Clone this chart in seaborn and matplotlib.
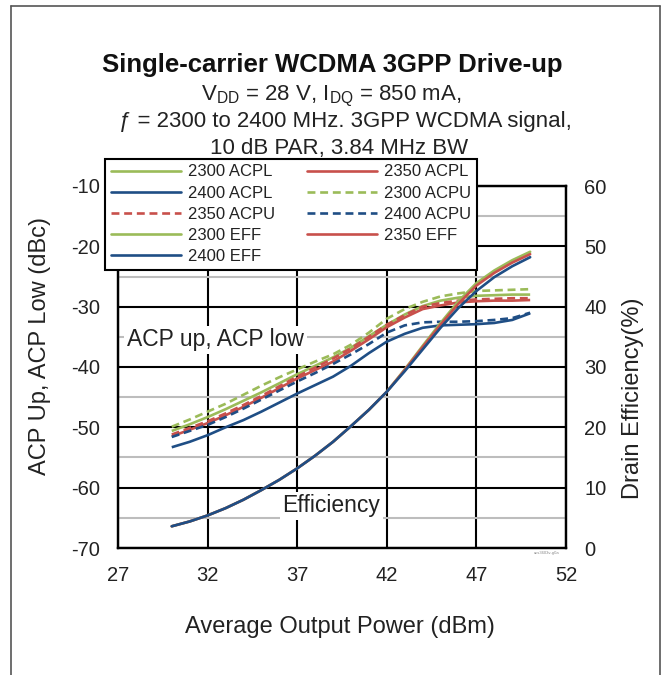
import numpy as np
import pandas as pd
import matplotlib
matplotlib.use("Agg")
import matplotlib.pyplot as plt
import seaborn as sns
from matplotlib.ticker import MultipleLocator
from matplotlib.lines import Line2D

# ---------------- data ----------------
pout = [30, 31, 32, 33, 34, 35, 36, 37, 38, 39, 40, 41, 42, 43, 44, 45, 46, 47, 48, 49, 50]

acpl_2300 = [-50.6, -49.5, -48.3, -47.0, -45.6, -44.2, -42.7, -41.2, -39.8, -38.4, -36.8,
             -34.9, -33.0, -31.3, -29.9, -29.0, -28.5, -28.2, -28.1, -28.0, -28.0]
acpl_2350 = [-51.5, -50.4, -49.3, -48.0, -46.6, -45.1, -43.5, -41.9, -40.5, -39.1, -37.3,
             -35.4, -33.4, -31.8, -30.4, -29.8, -29.3, -29.1, -29.0, -29.0, -28.9]
acpl_2400 = [-53.3, -52.4, -51.3, -50.0, -48.8, -47.4, -45.9, -44.4, -43.0, -41.6, -39.8,
             -37.7, -35.8, -34.5, -33.5, -33.1, -33.0, -32.9, -32.7, -32.2, -31.1]
acpu_2300 = [-49.9, -48.7, -47.4, -46.1, -44.6, -43.1, -41.7, -40.4, -39.1, -37.9, -36.3,
             -34.3, -32.0, -30.4, -29.2, -28.3, -27.8, -27.4, -27.3, -27.2, -27.1]
acpu_2350 = [-51.2, -50.1, -49.0, -47.7, -46.3, -44.8, -43.2, -41.6, -40.1, -38.6, -36.9,
             -35.0, -33.0, -31.4, -30.0, -29.4, -29.0, -28.8, -28.7, -28.6, -28.6]
acpu_2400 = [-51.6, -50.6, -49.6, -48.3, -46.9, -45.4, -43.9, -42.4, -41.0, -39.5, -37.9,
             -36.2, -34.3, -33.1, -32.6, -32.5, -32.5, -32.4, -32.2, -31.9, -31.0]
eff_2300 = [3.6, 4.4, 5.4, 6.6, 8.0, 9.6, 11.3, 13.2, 15.3, 17.6, 20.2,
            22.9, 25.9, 29.6, 33.5, 37.3, 40.9, 43.9, 46.0, 47.7, 49.1]
eff_2350 = [3.6, 4.4, 5.4, 6.6, 8.0, 9.6, 11.3, 13.2, 15.3, 17.6, 20.2,
            22.9, 25.9, 29.5, 33.3, 37.0, 40.5, 43.5, 45.6, 47.3, 48.7]
eff_2400 = [3.6, 4.4, 5.4, 6.6, 8.0, 9.6, 11.3, 13.2, 15.3, 17.6, 20.2,
            22.9, 25.9, 29.3, 32.9, 36.5, 39.8, 42.6, 44.9, 46.7, 48.2]

x_ticks = [27, 32, 37, 42, 47, 52]
y_left_ticks = [-70, -60, -50, -40, -30, -20, -10]
y_right_ticks = [0, 10, 20, 30, 40, 50, 60]

# ---------------- style ----------------
sns.set_style("white")
plt.rcParams["font.family"] = ["Liberation Sans", "DejaVu Sans"]
plt.rcParams["mathtext.fontset"] = "custom"
plt.rcParams["mathtext.rm"] = "Liberation Sans"
plt.rcParams["mathtext.it"] = "Liberation Sans:italic"
plt.rcParams["mathtext.bf"] = "Liberation Sans:bold"

GREEN = "#9BBB59"
RED = "#C8504B"
BLUE = "#1F4E85"
LW = 1.9
DASH = (0, (3.0, 1.8))

W, H = 666, 675
fig = plt.figure(figsize=(W / 100, H / 100), dpi=100)


def fx(px):
    return px / W


def fy(py):
    return 1 - py / H


ax = fig.add_axes([fx(118), fy(548), (566 - 118) / W, (548 - 186) / H])
ax2 = ax.twinx()

left_series = [
    ("2300 ACPL", acpl_2300, GREEN, "-"),
    ("2350 ACPL", acpl_2350, RED, "-"),
    ("2400 ACPL", acpl_2400, BLUE, "-"),
    ("2300 ACPU", acpu_2300, GREEN, DASH),
    ("2350 ACPU", acpu_2350, RED, DASH),
    ("2400 ACPU", acpu_2400, BLUE, DASH),
]
right_series = [
    ("2300 EFF", eff_2300, GREEN, "-"),
    ("2350 EFF", eff_2350, RED, "-"),
    ("2400 EFF", eff_2400, BLUE, "-"),
]

handles = {}
for name, vals, col, ls in left_series:
    df = pd.DataFrame({"x": pout, "y": vals})
    sns.lineplot(data=df, x="x", y="y", ax=ax, color=col, linewidth=LW, zorder=3)
    ln = ax.lines[-1]
    ln.set_linestyle(ls)
    ln.set_solid_capstyle("butt")
    handles[name] = Line2D([], [], color=col, lw=LW, linestyle=ls)
for name, vals, col, ls in right_series:
    df = pd.DataFrame({"x": pout, "y": vals})
    sns.lineplot(data=df, x="x", y="y", ax=ax2, color=col, linewidth=LW, zorder=3)
    ln = ax2.lines[-1]
    ln.set_linestyle(ls)
    handles[name] = Line2D([], [], color=col, lw=LW, linestyle=ls)

# axes
ax.set_xlim(27, 52)
ax.set_ylim(-70, -10)
ax2.set_ylim(0, 60)
ax.set_xticks(x_ticks)
ax.set_yticks(y_left_ticks)
ax2.set_yticks(y_right_ticks)
ax.set_xticklabels([str(v) for v in x_ticks])
ax.set_yticklabels([str(v) for v in y_left_ticks])
ax2.set_yticklabels([str(v) for v in y_right_ticks])
ax.yaxis.set_minor_locator(MultipleLocator(5))
ax.set_axisbelow(True)
ax.grid(which="major", axis="both", color="black", linewidth=1.5)
ax.grid(which="minor", axis="y", color="#BDBDBD", linewidth=1.5)
ax.tick_params(axis="both", which="both", length=0, labelsize=14.5, pad=13, colors="#222222")
ax2.tick_params(axis="y", length=0, labelsize=14.5, pad=13, colors="#222222")
ax2.grid(False)
for a in (ax, ax2):
    for s in a.spines.values():
        s.set_color("black")
        s.set_linewidth(1.6)
ax.set_xlabel("")
ax.set_ylabel("")
ax2.set_ylabel("")

# axis labels
fig.text(fx(340), fy(627), "Average Output Power (dBm)", ha="center", va="center",
         fontsize=17, color="#222222")
fig.text(fx(40), fy(346), "ACP Up, ACP Low (dBc)", ha="center", va="center",
         rotation=90, fontsize=17, color="#222222")
fig.text(fx(633), fy(398), "Drain Efficiency(%)", ha="center", va="center",
         rotation=90, fontsize=17, color="#222222")

# in-plot annotations
ax.text(27.5, -35.5, "ACP up, ACP low", ha="left", va="center", fontsize=16.5,
        color="#222222", zorder=4,
        bbox=dict(facecolor="white", edgecolor="none", pad=2))
ax.text(38.9, -63.0, "Efficiency", ha="center", va="center", fontsize=16.5,
        color="#222222", zorder=4,
        bbox=dict(facecolor="white", edgecolor="none", pad=2))
ax.text(0.985, -0.008, "ucs3603v-g0a", transform=ax.transAxes, ha="right", va="top",
        fontsize=3, color="#888888")

# titles
fig.text(fx(332), fy(72), "Single-carrier WCDMA 3GPP Drive-up", ha="center",
         va="baseline", fontsize=18.5, fontweight="bold", color="#111111")
fig.text(fx(331), fy(100), r"V$_{\mathrm{DD}}$ = 28 V, I$_{\mathrm{DQ}}$ = 850 mA,",
         ha="center", va="baseline", fontsize=16, color="#222222")
fig.text(fx(345), fy(127), "\u0192 = 2300 to 2400 MHz. 3GPP WCDMA signal,",
         ha="center", va="baseline", fontsize=16, color="#222222")
fig.text(fx(339), fy(154), "10 dB PAR, 3.84 MHz BW",
         ha="center", va="baseline", fontsize=16, color="#222222")

# legend (row-major order emulated)
order = ["2300 ACPL", "2400 ACPL", "2350 ACPU", "2300 EFF", "2400 EFF",
         "2350 ACPL", "2300 ACPU", "2400 ACPU", "2350 EFF"]
leg = fig.legend([handles[k] for k in order], order, loc="upper left",
                 bbox_to_anchor=(fx(105), fy(159)), ncol=2, fontsize=12,
                 frameon=True, fancybox=False, edgecolor="black", framealpha=1,
                 handlelength=4.2, handletextpad=0.45, columnspacing=1.9,
                 labelspacing=0.37, borderpad=0.33, borderaxespad=0)
leg.get_frame().set_linewidth(1.5)
for t in leg.get_texts():
    t.set_color("#222222")

# outer frame
for xs, ys in [((11, 11), (6, 675)), ((11, 660), (6, 6)), ((660, 660), (6, 675))]:
    fig.add_artist(Line2D([fx(xs[0]), fx(xs[1])], [fy(ys[0]), fy(ys[1])],
                          color="#555555", linewidth=1.2, transform=fig.transFigure))

fig.savefig("out.png", dpi=100)
